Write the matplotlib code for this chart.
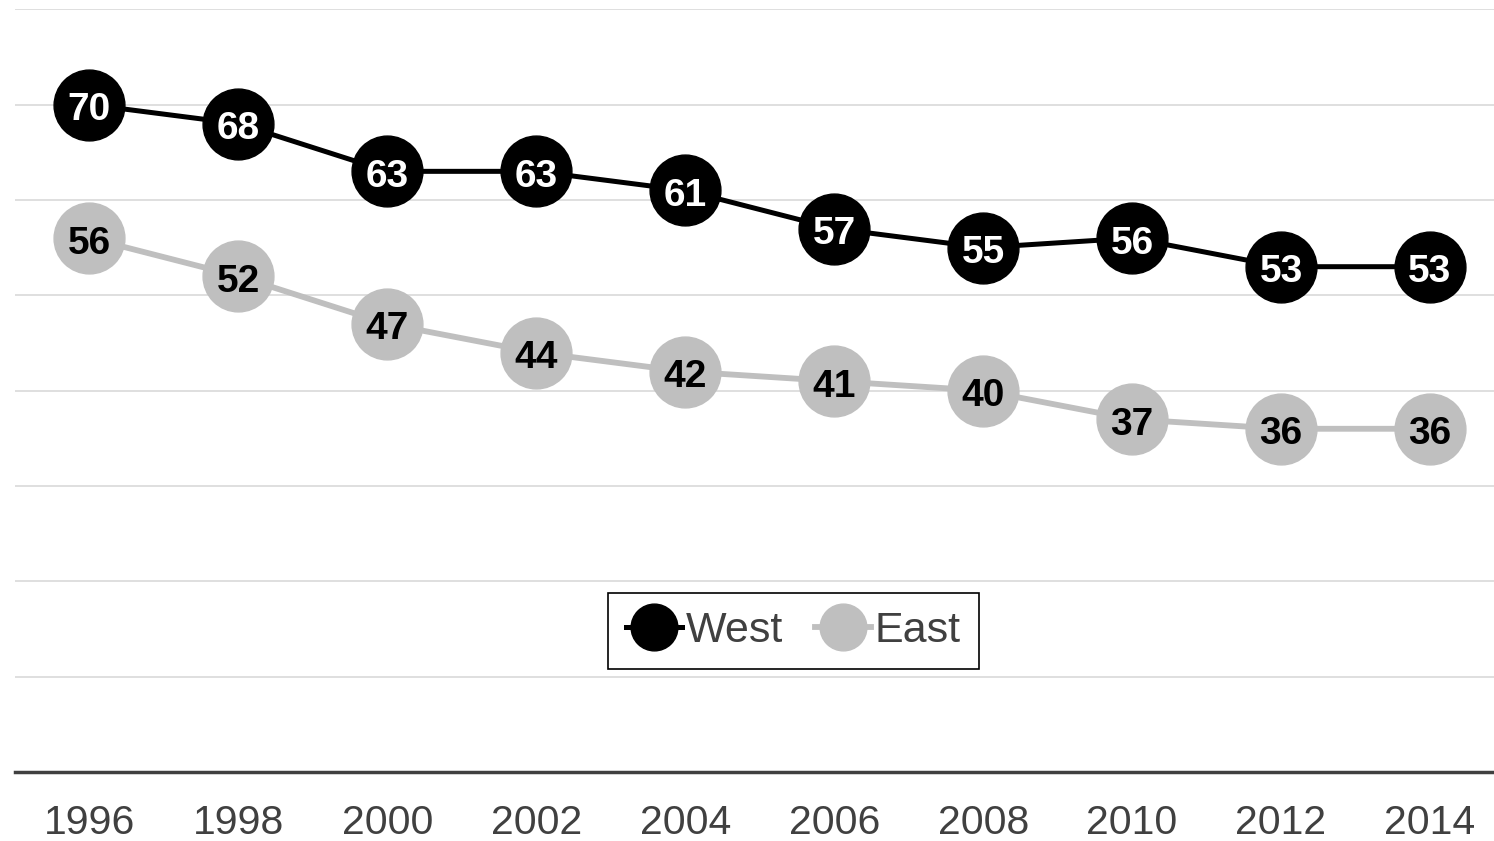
import matplotlib.pyplot as plt

# data
years = ['1996', '1998', '2000', '2002', '2004', '2006', '2008', '2010', '2012', '2014']
west = [70, 68, 63, 63, 61, 57, 55, 56, 53, 53]
east = [56, 52, 47, 44, 42, 41, 40, 37, 36, 36]

plt.rcParams['font.family'] = ['Liberation Sans', 'DejaVu Sans']

fig = plt.figure(figsize=(14.94, 8.41), dpi=100)
ax = fig.add_axes([0.01, 0.082, 0.997, 0.907])

x = range(len(years))
ax.plot(x, west, color='black', lw=3.6, marker='o', ms=51, label='West', zorder=3)
ax.plot(x, east, color='#bfbfbf', lw=4.2, marker='o', ms=51, label='East', zorder=2)

for i in x:
    ax.text(i, west[i] - 0.15, str(west[i]), ha='center', va='center_baseline', color='white',
            fontsize=28, fontweight='bold', zorder=5)
    ax.text(i, east[i] - 0.15, str(east[i]), ha='center', va='center_baseline', color='black',
            fontsize=28, fontweight='bold', zorder=5)

ax.set_xlim(-0.5, 9.5)
ax.set_ylim(0, 80)
ax.set_yticks(range(10, 90, 10))
ax.yaxis.grid(True, color='#d9d9d9', lw=1.2)
ax.set_axisbelow(True)
ax.tick_params(axis='y', left=False, labelleft=False)
ax.set_xticks(list(x))
ax.set_xticklabels(years, fontsize=29.5, color='#404040')
ax.tick_params(axis='x', length=0, pad=23)
for s in ['top', 'right', 'left']:
    ax.spines[s].set_visible(False)
ax.spines['bottom'].set_color('#404040')
ax.spines['bottom'].set_linewidth(2.5)

leg = ax.legend(loc='center', bbox_to_anchor=(0.5225, 0.185), ncol=2, fontsize=31,
                markerscale=0.66, handlelength=1.3, handletextpad=0.08, columnspacing=0.75,
                fancybox=False, edgecolor='black', framealpha=1, borderpad=0.42,
                borderaxespad=0)
leg.get_frame().set_linewidth(1.2)
for t in leg.get_texts():
    t.set_color('#404040')

fig.savefig('out.png', dpi=100)
